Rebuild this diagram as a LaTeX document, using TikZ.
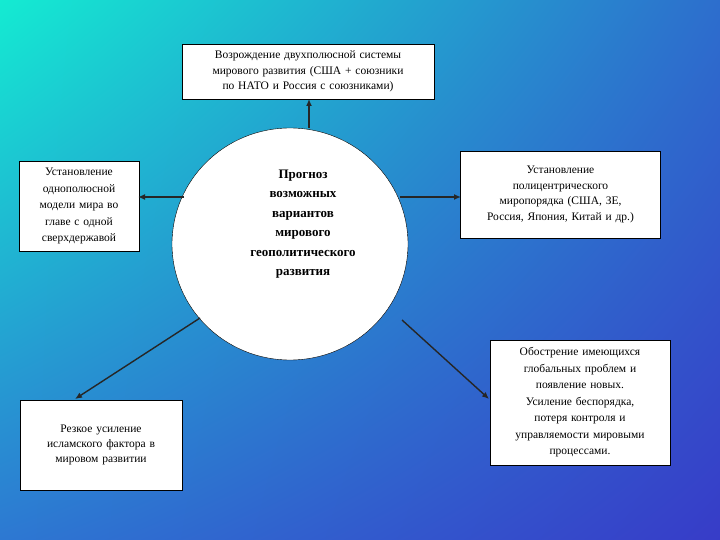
\documentclass[tikz,border=0pt]{standalone}
\usepackage{fontspec}
\setmainfont{Liberation Serif}
\usetikzlibrary{shadings,shapes.geometric,arrows.meta}
\definecolor{ul}{RGB}{20,235,210}
\definecolor{ur}{RGB}{45,110,205}
\definecolor{ll}{RGB}{45,120,210}
\definecolor{lr}{RGB}{55,60,200}
\begin{document}
\begin{tikzpicture}[x=1pt,y=-1pt,
  box/.style={draw=black,fill=white,align=center,font=\fontsize{11.5}{15.5}\selectfont,inner sep=2pt},
  arr/.style={-{Latex[length=7pt,width=6pt]},line width=1.4pt,draw=black!85}]
\shade[upper left=ul,upper right=ur,lower left=ll,lower right=lr] (0,0) rectangle (720,540);
\useasboundingbox (0,0) rectangle (720,540);
\node[box,minimum width=252,minimum height=55,text width=248] (top) at (308,71.5) {Возрождение двухполюсной системы\\мирового развития (США + союзники\\по НАТО и Россия с союзниками)};
\node[box,minimum width=118,minimum height=90,text width=116,font=\fontsize{11.5}{16.5}\selectfont] (left) at (79,206) {Установление\\однополюсной\\модели мира во\\главе с одной\\сверхдержавой};
\node[box,minimum width=199,minimum height=87,text width=196] (right) at (560.5,194.5) {Установление\\полицентрического\\миропорядка (США, ЗЕ,\\Россия, Япония, Китай и др.)};
\node[box,minimum width=162,minimum height=90,text width=158,anchor=north] (bl) at (101,400) {\vspace{-1pt}Резкое усиление\\исламского фактора в\\мировом развитии\\[22pt]};
\node[box,minimum width=180,minimum height=125,text width=176,font=\fontsize{11.5}{16.5}\selectfont] (br) at (580,402.5) {Обострение имеющихся\\глобальных проблем и\\появление новых.\\Усиление беспорядка,\\потеря контроля и\\управляемости мировыми\\процессами.};
\node[draw=black,fill=white,ellipse,minimum width=236,minimum height=232,inner sep=0] (c) at (290,244) {};
\node[align=center,font=\fontsize{13}{19.5}\selectfont\bfseries] (ct) at (303,224) {Прогноз\\возможных\\вариантов\\мирового\\геополитического\\развития};
\coordinate (cu) at (309,128);
\coordinate (cl) at (184,197);
\coordinate (cr) at (400,197);
\coordinate (cbl) at (200,318);
\coordinate (cbr) at (402,320);
\coordinate (tl) at (138,197);
\coordinate (tr) at (461,197);
\coordinate (tt) at (309,99);
\coordinate (tbl) at (75,399);
\coordinate (tbr) at (489,399);
\draw[arr] (cu) -- (tt);
\draw[arr] (cl) -- (tl);
\draw[arr] (cr) -- (tr);
\draw[arr] (cbl) -- (tbl);
\draw[arr] (cbr) -- (tbr);
\end{tikzpicture}
\end{document}
